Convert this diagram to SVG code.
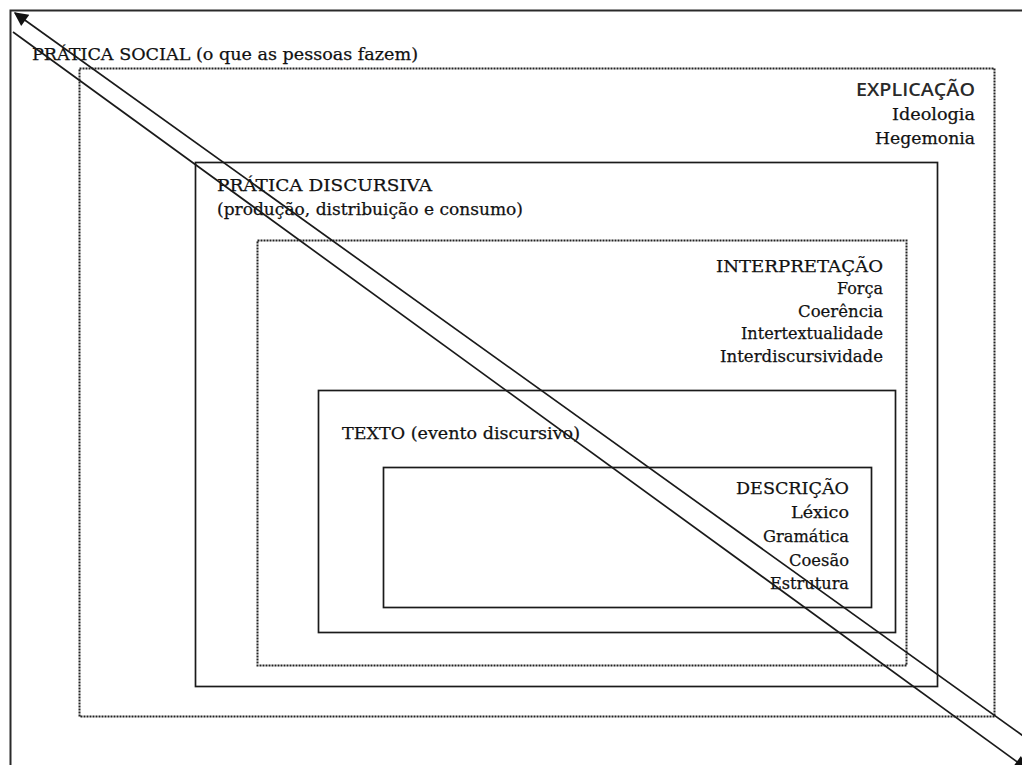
<svg xmlns="http://www.w3.org/2000/svg" width="1022" height="765" viewBox="0 0 1022 765">
  <style>
    .frame { fill: none; stroke: #2a2a2a; stroke-width: 2; }
    .solid { fill: none; stroke: #1a1a1a; stroke-width: 1.7; }
    .dotted { fill: none; stroke: #222; stroke-width: 2; stroke-dasharray: 2 1; }
    .t { font-family: "DejaVu Serif", "Liberation Serif", serif; font-size: 17.5px; fill: #111; stroke: #111; stroke-width: 0.25; }
    .s { font-family: "Open Sans", "Liberation Sans", sans-serif; font-size: 18px; font-weight: 600; fill: #2a2a2a; }
    .r { text-anchor: end; }
    .conn { stroke: #1a1a1a; stroke-width: 1.7; fill: none; }
  </style>
  <defs>
    <marker id="headL" viewBox="0 0 10 10" refX="9" refY="5" markerWidth="17" markerHeight="14" markerUnits="userSpaceOnUse" orient="auto-start-reverse">
      <path d="M0,0 L10,5 L0,10 z" fill="#111"/>
    </marker>
  </defs>

  <rect width="1022" height="765" fill="#fff"/>

  <!-- outer frame: social practice -->
  <g id="pratica-social">
    <path class="frame" d="M10.5,765 V10.5 H1022"/>
    <text class="t" x="32" y="60" textLength="386" lengthAdjust="spacingAndGlyphs">PRÁTICA SOCIAL (o que as pessoas fazem)</text>
  </g>

  <g id="explicacao">
    <rect class="dotted" x="79.5" y="68.5" width="915" height="648"/>
    <text class="s r" x="975" y="96" textLength="119" lengthAdjust="spacingAndGlyphs">EXPLICAÇÃO</text>
    <text class="t r" x="975" y="120" textLength="83" lengthAdjust="spacingAndGlyphs">Ideologia</text>
    <text class="t r" x="975" y="144" textLength="100" lengthAdjust="spacingAndGlyphs">Hegemonia</text>
  </g>

  <g id="pratica-discursiva">
    <rect class="solid" x="195.5" y="162.5" width="742" height="524"/>
    <text class="t" x="217" y="191" textLength="215" lengthAdjust="spacingAndGlyphs">PRÁTICA DISCURSIVA</text>
    <text class="t" x="217" y="215" textLength="306" lengthAdjust="spacingAndGlyphs">(produção, distribuição e consumo)</text>
  </g>

  <g id="interpretacao">
    <rect class="dotted" x="257.5" y="240.5" width="649" height="425"/>
    <text class="t r" x="883" y="272" textLength="167" lengthAdjust="spacingAndGlyphs">INTERPRETAÇÃO</text>
    <text class="t r" x="883" y="294" textLength="46" lengthAdjust="spacingAndGlyphs">Força</text>
    <text class="t r" x="883" y="317" textLength="85" lengthAdjust="spacingAndGlyphs">Coerência</text>
    <text class="t r" x="883" y="339" textLength="142" lengthAdjust="spacingAndGlyphs">Intertextualidade</text>
    <text class="t r" x="883" y="362" textLength="163" lengthAdjust="spacingAndGlyphs">Interdiscursividade</text>
  </g>

  <g id="texto">
    <rect class="solid" x="318.5" y="390.5" width="577" height="242"/>
    <text class="t" x="342" y="439" textLength="238" lengthAdjust="spacingAndGlyphs">TEXTO (evento discursivo)</text>
  </g>

  <g id="descricao">
    <rect class="solid" x="383.5" y="467.5" width="488" height="140"/>
    <text class="t r" x="849" y="494" textLength="113" lengthAdjust="spacingAndGlyphs">DESCRIÇÃO</text>
    <text class="t r" x="849" y="518" textLength="58" lengthAdjust="spacingAndGlyphs">Léxico</text>
    <text class="t r" x="849" y="542" textLength="86" lengthAdjust="spacingAndGlyphs">Gramática</text>
    <text class="t r" x="849" y="566" textLength="60" lengthAdjust="spacingAndGlyphs">Coesão</text>
    <text class="t r" x="849" y="589" textLength="79" lengthAdjust="spacingAndGlyphs">Estrutura</text>
  </g>

  <!-- diagonal connectors -->
  <g id="connectors">
    <line class="conn" x1="1026" y1="738" x2="15" y2="13" marker-end="url(#headL)"/>
    <line class="conn" x1="13" y1="32" x2="1027" y2="769" marker-end="url(#headL)"/>
  </g>
</svg>
